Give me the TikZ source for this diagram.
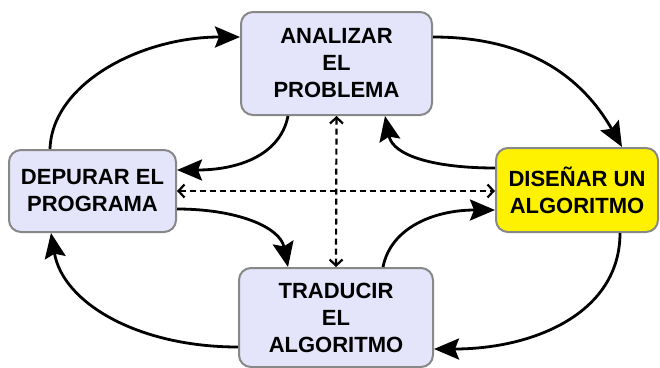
\documentclass[tikz,border=0pt]{standalone}
\usepackage{fontspec}
\setmainfont{Liberation Sans}
\usetikzlibrary{arrows.meta,shapes}

\definecolor{lavanda}{RGB}{228,228,250}
\definecolor{borde}{RGB}{136,136,136}

\begin{document}
\begin{tikzpicture}[x=1pt,y=-1pt,
  paso/.style={draw=borde,line width=2pt,fill=lavanda,rounded corners=12pt,
    align=center,inner sep=0pt,font=\fontsize{22}{27}\selectfont\bfseries},
  flecha/.style={line width=2.8pt,-{Stealth[length=25pt,width=21pt,inset=4pt]}},
  punteada/.style={line width=2.2pt,dash pattern=on 6pt off 4pt,
    {Straight Barb[length=6pt,width=13pt]}-{Straight Barb[length=6pt,width=13pt]}}]

\useasboundingbox (0,0) rectangle (660,367);

\node[paso,minimum width=191pt,minimum height=103pt] (analizar) at (336.5,63.5) {ANALIZAR\\EL\\PROBLEMA};
\node[paso,minimum width=167pt,minimum height=82pt] (depurar) at (92.5,191) {DEPURAR EL\\PROGRAMA};
\node[paso,fill=yellow,minimum width=162pt,minimum height=84pt] (disenar) at (577,190) {DISEÑAR UN\\ALGORITMO};
\node[paso,minimum width=194pt,minimum height=99pt] (traducir) at (336,317.5) {TRADUCIR\\EL\\ALGORITMO};

% ciclo exterior
\draw[flecha] ([xshift=-42.5pt]depurar.north) .. controls +(2,-65) and +(-100,0) .. ([yshift=26.5pt]analizar.west);
\draw[flecha] ([yshift=26.5pt]analizar.east) .. controls +(95,0) and +(-40,-70) .. ([xshift=45pt]disenar.north);
\draw[flecha] ([xshift=43pt]disenar.south) .. controls +(0,80) and +(100,0) .. ([yshift=-31.5pt]traducir.east);
\draw[flecha] ([yshift=-29.5pt]traducir.west) .. controls +(-100,0) and +(12,70) .. ([xshift=-41.5pt]depurar.south);

% ciclo interior
\draw[flecha] ([xshift=-48.5pt]analizar.south) .. controls +(-8,40) and +(60,0) .. ([yshift=21pt]depurar.east);
\draw[flecha] ([yshift=-18pt]depurar.east) .. controls +(60,0) and +(-8,-40) .. ([xshift=-48pt]traducir.north);
\draw[flecha] ([xshift=47pt]traducir.north) .. controls +(8,-40) and +(-60,0) .. ([yshift=-20pt]disenar.west);
\draw[flecha] ([yshift=22pt]disenar.west) .. controls +(-60,0) and +(8,40) .. ([xshift=48.5pt]analizar.south);

% cruz punteada
\draw[punteada] (analizar.south) -- (traducir.north);
\draw[punteada] (depurar.east) -- (depurar.east -| disenar.west);

\end{tikzpicture}
\end{document}
